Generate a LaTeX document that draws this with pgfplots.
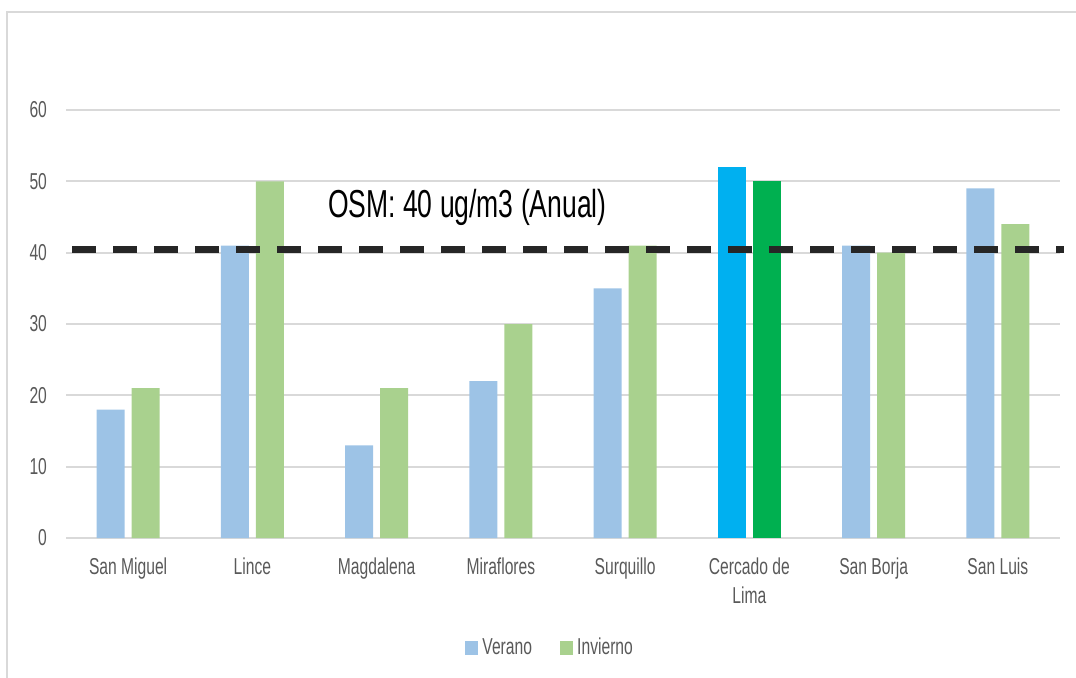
\documentclass[border=0pt]{standalone}
\usepackage{fontspec}
\setmainfont{Liberation Sans}[FakeStretch=0.68]
\usepackage{pgfplots}
\pgfplotsset{compat=1.18}
\definecolor{verano}{HTML}{9DC3E6}
\definecolor{invierno}{HTML}{A9D18E}
\definecolor{veranoH}{HTML}{00B0F0}
\definecolor{inviernoH}{HTML}{00B050}
\definecolor{txt}{HTML}{595959}
\definecolor{gridc}{HTML}{D9D9D9}
\begin{document}
\begin{tikzpicture}
\useasboundingbox (0,0) rectangle (538pt,338.5pt);
\draw[gridc, line width=0.8pt] (3.5pt,-2pt) -- (3.5pt,332.5pt) -- (540pt,332.5pt);
\begin{axis}[
  at={(33pt,69.5pt)}, anchor=south west,
  scale only axis, width=497pt, height=214pt,
  xmin=-0.5, xmax=7.5, ymin=0, ymax=60,
  ytick={0,10,...,60},
  xtick={0,...,7},
  xticklabels={San Miguel,Lince,Magdalena,Miraflores,Surquillo,{Cercado de\\Lima},San Borja,San Luis},
  xticklabel style={align=center, font=\fontsize{11.5}{14.5}\selectfont, text=txt, yshift=-6.5pt},
  yticklabel style={font=\fontsize{11.5}{13}\selectfont, text=txt, xshift=-6pt},
  /pgf/number format/assume math mode=true,
  major tick length=0pt,
  axis line style={draw=none},
  xmajorgrids=false, ymajorgrids=true, grid style={draw=gridc, line width=1pt},
  clip=false,
  legend style={at={(0.488,-0.257)}, anchor=center, draw=none, font=\fontsize{11.5}{13}\selectfont, text=txt, legend columns=2, /tikz/every even column/.append style={column sep=12pt}},
  legend image code/.code={\fill[#1] (0pt,-3.3pt) rectangle (6.6pt,3.3pt);},
]
\addplot[ybar, bar width=14pt, bar shift=-8.75pt, fill=verano, draw=none] coordinates {(0,18) (1,41) (2,13) (3,22) (4,35) (6,41) (7,49)};
\addlegendentry{Verano}
\addplot[ybar, bar width=14pt, bar shift=8.75pt, fill=invierno, draw=none] coordinates {(0,21) (1,50) (2,21) (3,30) (4,41) (6,40) (7,44)};
\addlegendentry{Invierno}
\addplot[ybar, bar width=14pt, bar shift=-8.75pt, fill=veranoH, draw=none, forget plot] coordinates {(5,52)};
\addplot[ybar, bar width=14pt, bar shift=8.75pt, fill=inviernoH, draw=none, forget plot] coordinates {(5,50)};
\addplot[color={black!85}, line width=3.5pt, dash pattern=on 12pt off 8.5pt, forget plot] coordinates {(-0.45,40.4) (7.53,40.4)};
\node[font=\fontsize{19.5}{22}\selectfont, text=black] at (axis cs:2.73,46.3) {OSM: 40 ug/m3 (Anual)};
\end{axis}
\end{tikzpicture}
\end{document}
